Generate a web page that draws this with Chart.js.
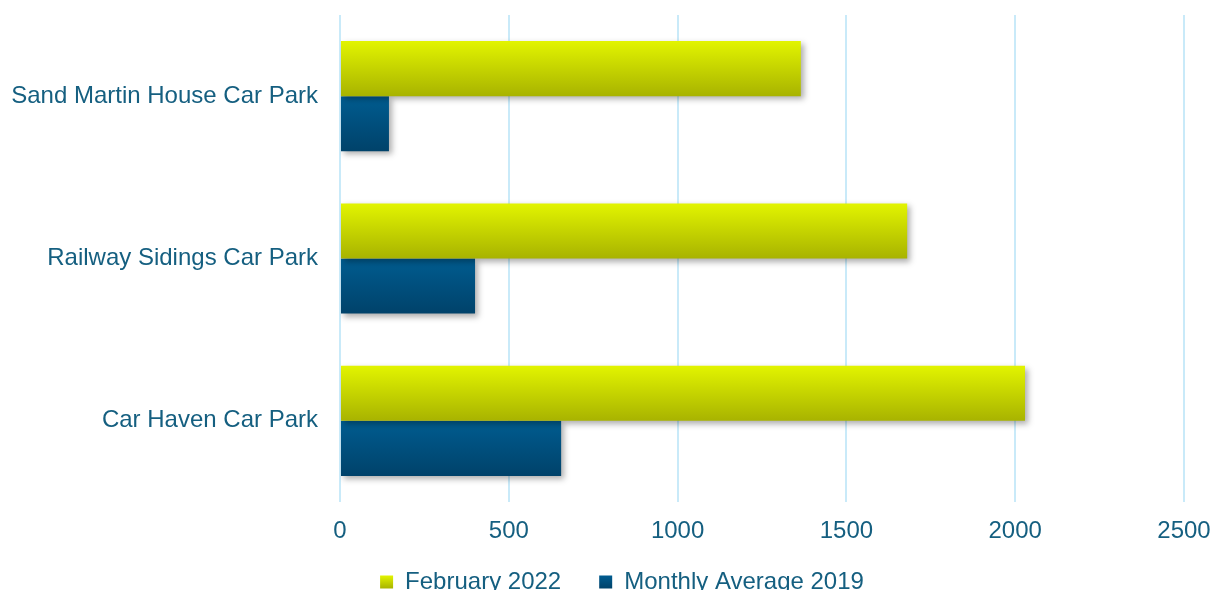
<!DOCTYPE html>
<html>
<head>
<meta charset="utf-8">
<script src="https://cdn.jsdelivr.net/npm/chart.js@4/dist/chart.umd.min.js"></script>
<style>
    html, body { margin: 0; padding: 0; background: #ffffff; overflow: hidden; }
    #wrap { width: 1213px; height: 622px; }
</style>
</head>
<body>
<div id="wrap"><canvas id="mycanvas" width="1213" height="622"></canvas></div>
<script>
var carParks = ["Sand Martin House Car Park", "Railway Sidings Car Park", "Car Haven Car Park"];
var february2022 = [1365, 1680, 2029];
var monthlyAverage2019 = [145, 400, 655];
var xTicks = [0, 500, 1000, 1500, 2000, 2500];

var textColour = '#155f80';
var gridColour = '#c9eaf9';
var fontFamily = 'Liberation Sans, Arial, sans-serif';
var legendTop = 532;

// vertical gradient per bar, plus a soft drop shadow under the bars
var barStyle = {
    id: 'barStyle',
    beforeDatasetsDraw: function (chart) {
        var ctx = chart.ctx;
        chart.data.datasets.forEach(function (ds, di) {
            var meta = chart.getDatasetMeta(di);
            meta.data.forEach(function (bar) {
                var top = bar.y - bar.height / 2;
                var g = ctx.createLinearGradient(0, top, 0, top + bar.height);
                g.addColorStop(0, ds.gradTop);
                g.addColorStop(1, ds.gradBottom);
                bar.options.backgroundColor = g;
            });
        });
        ctx.save();
        ctx.shadowColor = 'rgba(0, 0, 0, 0.32)';
        ctx.shadowBlur = 6;
        ctx.shadowOffsetX = 3;
        ctx.shadowOffsetY = 3;
    },
    afterDatasetsDraw: function (chart) {
        chart.ctx.restore();
    }
};

// legend sits a bit higher and further right than the default layout puts it
var legendPlace = {
    id: 'legendPlace',
    afterLayout: function (chart) {
        var lg = chart.legend;
        var h = lg.bottom - lg.top;
        lg.top = legendTop;
        lg.bottom = legendTop + h;
        lg.left += 30;
        lg.right += 30;
    }
};

var chartdata = {
    labels: carParks,
    datasets: [
        {
            label: 'February 2022',
            data: february2022,
            // scriptable so every bar keeps its own options object
            backgroundColor: function () { return '#c8d800'; },
            gradTop: '#e2f400',
            gradBottom: '#a8b300'
        },
        {
            label: 'Monthly Average 2019',
            data: monthlyAverage2019,
            backgroundColor: function () { return '#004f7c'; },
            gradTop: '#005c90',
            gradBottom: '#00426a'
        }
    ]
};

var ctx = document.getElementById('mycanvas');

var barGraph = new Chart(ctx, {
    type: 'bar',
    data: chartdata,
    plugins: [barStyle, legendPlace],
    options: {
        indexAxis: 'y',
        responsive: false,
        animation: false,
        datasets: {
            bar: {
                categoryPercentage: 0.679,
                barPercentage: 1.0,
                borderWidth: 0
            }
        },
        layout: {
            padding: { top: 15, right: 29, left: 0, bottom: 0 }
        },
        scales: {
            x: {
                min: 0,
                max: 2500,
                afterBuildTicks: function (scale) {
                    scale.ticks = xTicks.map(function (v) { return { value: v }; });
                },
                afterFit: function (scale) {
                    scale.height = 48;
                    scale.paddingLeft = 0;
                    scale.paddingRight = 0;
                },
                grid: {
                    color: gridColour,
                    lineWidth: 2,
                    drawTicks: false
                },
                border: { display: false },
                ticks: {
                    color: textColour,
                    padding: 15,
                    maxRotation: 0,
                    callback: function (v) { return String(v); },
                    font: { family: fontFamily, size: 24 }
                }
            },
            y: {
                afterFit: function (scale) {
                    scale.width = 340;
                    scale.paddingTop = 0;
                    scale.paddingBottom = 0;
                },
                grid: { display: false, drawTicks: false },
                border: { display: false },
                ticks: {
                    color: textColour,
                    padding: 22,
                    font: { family: fontFamily, size: 24 }
                }
            }
        },
        plugins: {
            legend: {
                position: 'bottom',
                labels: {
                    color: textColour,
                    boxWidth: 13,
                    boxHeight: 13,
                    padding: 38,
                    font: { family: fontFamily, size: 24 },
                    // shade the legend swatches like the bars
                    generateLabels: function (chart) {
                        var items = Chart.defaults.plugins.legend.labels.generateLabels(chart);
                        var boxTop = legendTop + 38 + (24 - 13) / 2;
                        items.forEach(function (item) {
                            var ds = chart.data.datasets[item.datasetIndex];
                            var g = chart.ctx.createLinearGradient(0, boxTop, 0, boxTop + 13);
                            g.addColorStop(0, ds.gradTop);
                            g.addColorStop(1, ds.gradBottom);
                            item.fillStyle = g;
                            item.lineWidth = 0;
                        });
                        return items;
                    }
                }
            },
            tooltip: { enabled: false }
        }
    }
});
</script>
</body>
</html>
